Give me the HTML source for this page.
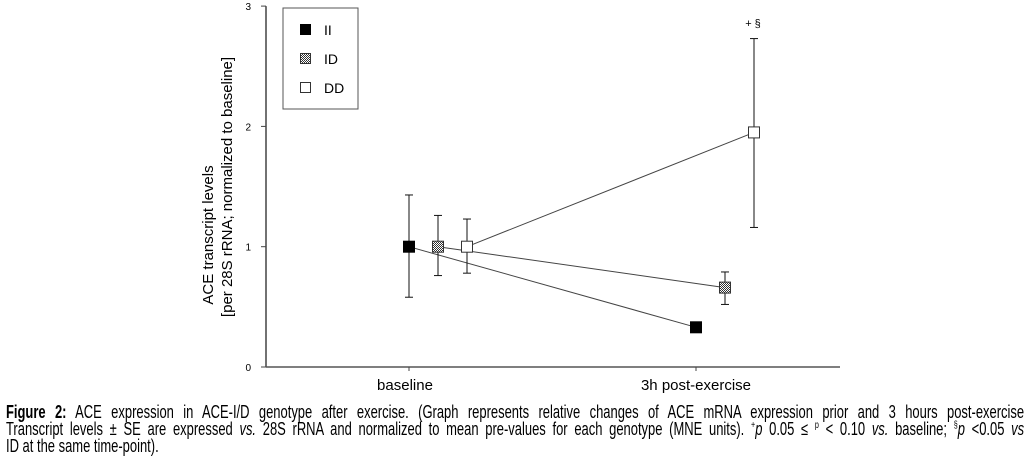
<!DOCTYPE html>
<html><head><meta charset="utf-8"><style>
body{margin:0;background:#fff;width:1028px;height:465px;overflow:hidden;font-family:"Liberation Sans",Arial,sans-serif}
#cap{position:absolute;left:6px;top:404px;width:1414px;font-size:18px;line-height:17px;color:#000;transform:scaleX(0.72);transform-origin:0 0}
#cap .ln{white-space:nowrap;text-align:justify;text-align-last:justify}
#cap .last{text-align-last:left}
sup{font-size:10px;line-height:0}
</style></head><body>
<svg id="chart" width="1028" height="400" style="position:absolute;left:0;top:0" font-family="Liberation Sans, Arial, sans-serif">
<defs><pattern id="chk" width="2" height="2" patternUnits="userSpaceOnUse"><rect width="2" height="2" fill="#fff"/><rect width="1" height="1" fill="#333"/><rect x="1" y="1" width="1" height="1" fill="#333"/></pattern></defs>
<g id="axes"></g><g id="marks"></g>
<g>
<rect x="283" y="8" width="75" height="101" fill="#fff" stroke="#555" stroke-width="1"/>
<rect x="300" y="24" width="11" height="11" fill="#000"/>
<text x="324" y="35" font-size="14">II</text>
<rect x="300.5" y="53.5" width="10" height="10" fill="url(#chk)" stroke="#333"/>
<text x="324" y="64" font-size="14">ID</text>
<rect x="300.5" y="82.5" width="10" height="10" fill="#fff" stroke="#333"/>
<text x="324" y="93" font-size="14">DD</text>
</g>
<text transform="translate(213,235) rotate(-90)" text-anchor="middle" font-size="15">ACE transcript levels</text>
<text transform="translate(232,187) rotate(-90)" text-anchor="middle" font-size="15">[per 28S rRNA; normalized to baseline]</text>
<text x="753" y="27" text-anchor="middle" font-size="11">+ §</text>
</svg>
<div id="cap">
<div class="ln"><b>Figure 2:</b> ACE expression in ACE-I/D genotype after exercise. (Graph represents relative changes of ACE mRNA expression prior and 3 hours post-exercise</div>
<div class="ln">Transcript levels ± SE are expressed <i>vs.</i> 28S rRNA and normalized to mean pre-values for each genotype (MNE units). <sup>+</sup><i>p</i> 0.05 ≤ <sup>p</sup> &lt; 0.10 <i>vs.</i> baseline; <sup>§</sup><i>p</i> &lt;0.05 <i>vs</i></div>
<div class="ln last">ID at the same time-point).</div>
</div>
<script>
const categories=["baseline","3h post-exercise"];
const seriesNames=["II","ID","DD"];
const valuesII=[1.0,0.33];
const valuesID=[1.0,0.66];
const valuesDD=[1.0,1.95];
const errIIUp=[0.43,0];
const errIILo=[0.42,0];
const errIDUp=[0.26,0.13];
const errIDLo=[0.24,0.14];
const errDDUp=[0.23,0.78];
const errDDLo=[0.22,0.79];
const yTicks=[0,1,2,3];
const NS="http://www.w3.org/2000/svg";
function y(v){return 367-120.3*v;}
function x(i,s){return 409+287*i+29*s;}
function mk(tag,attrs,parent){const e=document.createElementNS(NS,tag);for(const k in attrs)e.setAttribute(k,attrs[k]);parent.appendChild(e);return e;}
const ax=document.getElementById('axes'),mg=document.getElementById('marks');
let e=mk('line',{x1:266,y1:y(3),x2:266,y2:y(0),stroke:'#444','stroke-width':1.5},ax);


e=mk('line',{x1:266,y1:367,x2:840,y2:367,stroke:'#555','stroke-width':1.5},ax);


yTicks.forEach(t=>{
 let l=mk('line',{x1:261,y1:y(t),x2:266,y2:y(t),stroke:'#444'},ax);
 
 
 let tx=mk('text',{x:251,y:y(t)+4,'font-size':10,'text-anchor':'end'},ax);tx.textContent=t;
 
 
});
categories.forEach((c,i)=>{
 let l=mk('line',{x1:x(i,0),y1:367,x2:x(i,0),y2:371,stroke:'#444'},ax);
 
 
 let tx=mk('text',{x:x(i,0)+(i?0:-4),y:390,'font-size':15,'text-anchor':'middle'},ax);tx.textContent=c;
 
 
});
const series=[
 {vals:valuesII,up:errIIUp,lo:errIILo,fill:'#000',stroke:'#000',name:'ii'},
 {vals:valuesID,up:errIDUp,lo:errIDLo,fill:'url(#chk)',stroke:'#333',name:'id'},
 {vals:valuesDD,up:errDDUp,lo:errDDLo,fill:'#fff',stroke:'#333',name:'dd'}];
series.forEach((s,si)=>{
 let ln=mk('line',{x1:x(0,si),y1:y(s.vals[0]),x2:x(1,si),y2:y(s.vals[1]),stroke:'#444','stroke-width':1},mg);
 
 
});
series.forEach((s,si)=>{
 s.vals.forEach((v,i)=>{
  const cx=x(i,si);
  if(s.up[i]>0||s.lo[i]>0){
   const g=mk('g',{stroke:'#111','stroke-width':1},mg);
   
   
   mk('line',{x1:cx,y1:y(v+s.up[i]),x2:cx,y2:y(v-s.lo[i])},g);
   mk('line',{x1:cx-4,y1:y(v+s.up[i]),x2:cx+4,y2:y(v+s.up[i])},g);
   mk('line',{x1:cx-4,y1:y(v-s.lo[i]),x2:cx+4,y2:y(v-s.lo[i])},g);
  }
  const r=mk('rect',{x:cx-5.5,y:y(v)-5.5,width:11,height:11,fill:s.fill,stroke:s.stroke,'stroke-width':1},mg);
  
  
 });
});
</script>
</body></html>
